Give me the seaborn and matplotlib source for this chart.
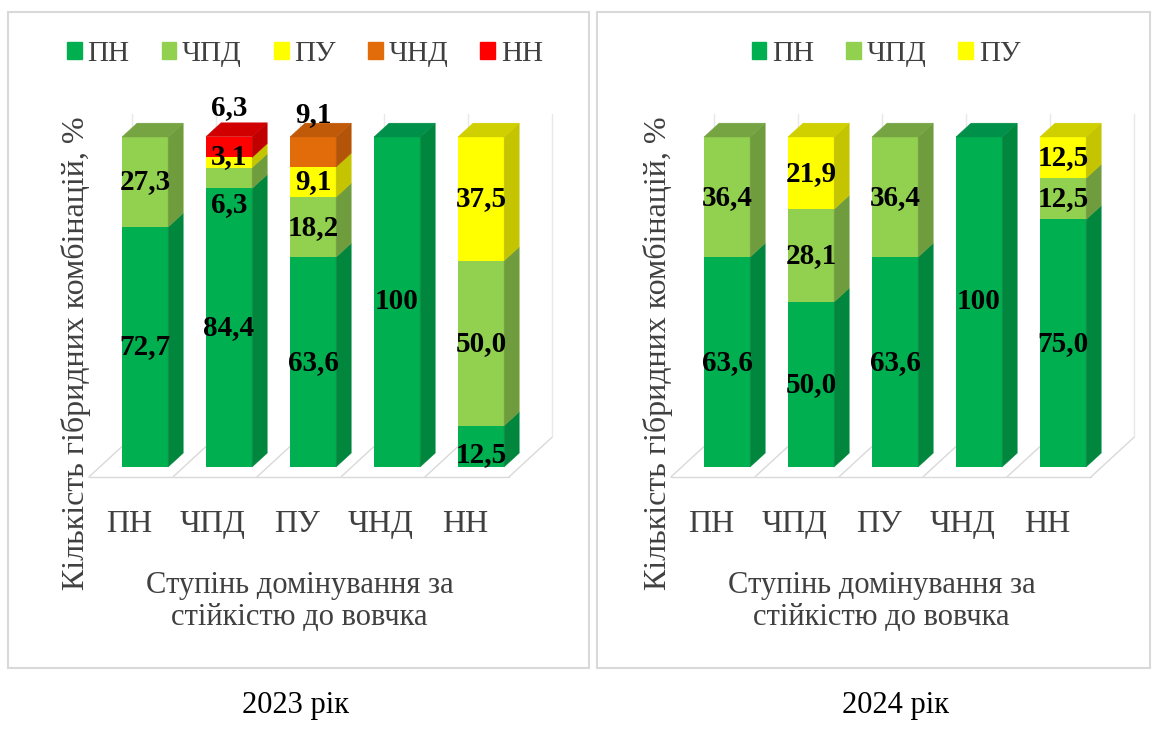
"""
Stacked 3D-like bars: degree of dominance for resistance to broomrape, 2023 vs 2024.
"""

import numpy as np
import pandas as pd
import matplotlib
matplotlib.use("Agg")
import matplotlib.pyplot as plt
from matplotlib.patches import Polygon, Patch, Rectangle
import seaborn as sns

categories = ["ПН", "ЧПД", "ПУ", "ЧНД", "НН"]

# 2023
pn_2023 = [72.7, 84.4, 63.6, 100, 12.5]
chpd_2023 = [27.3, 6.3, 18.2, 0, 50.0]
pu_2023 = [0, 3.1, 9.1, 0, 37.5]
chnd_2023 = [0, 0, 9.1, 0, 0]
nn_2023 = [0, 6.3, 0, 0, 0]

# 2024
pn_2024 = [63.6, 50.0, 63.6, 100, 75.0]
chpd_2024 = [36.4, 28.1, 36.4, 0, 12.5]
pu_2024 = [0, 21.9, 0, 0, 12.5]

years = ["2023 рік", "2024 рік"]
ylabel = "Кількість гібридних комбінацій, %"
xlabel = "Ступінь домінування за\nстійкістю до вовчка"

FRONT = {"ПН": "#00B050", "ЧПД": "#92D050", "ПУ": "#FFFF00", "ЧНД": "#E36C0A", "НН": "#FF0000"}
SIDE = {"ПН": "#00873D", "ЧПД": "#6F9C3D", "ПУ": "#C4C400", "ЧНД": "#B35408", "НН": "#C00000"}
TOP = {"ПН": "#00904A", "ЧПД": "#76A443", "ПУ": "#D0D000", "ЧНД": "#C05A08", "НН": "#D00000"}

BAR_W = 0.55
DX, DY = 0.18, 4.2
GRID = "#D9D9D9"
TEXT = "#404040"
FAM = ["Liberation Serif", "DejaVu Serif"]

# label nudges where Excel moved crowded labels
NUDGE = {
    (0, "ЧПД", "ЧПД"): -8, (0, "ЧПД", "ПУ"): 1.7, (0, "ЧПД", "НН"): 12,
    (0, "ПУ", "ЧНД"): 11.5, (0, "НН", "ПН"): -2.5,
}

sns.set_theme(style="white")
plt.rcParams["font.family"] = "serif"
plt.rcParams["font.serif"] = ["Liberation Serif", "DejaVu Serif"]


def fmt(v):
    return "100" if v == 100 else f"{v:.1f}".replace(".", ",")


def draw_floor(ax):
    # floor and back wall of the 3D box
    ax.plot([-0.667, 4.333], [-3, -3], color=GRID, lw=1, zorder=0)
    for k in range(6):
        ax.plot([k - 0.667, k - 0.155], [-3, 9], color=GRID, lw=1, zorder=0)
        ax.plot([k - 0.155, k - 0.155], [9, 107], color="#E8E8E8", lw=1, zorder=0)


def draw_panel(ax, idx, series, legend_x):
    rows = []
    for name, vals in series:
        for cat, v in zip(categories, vals):
            rows.append(dict(cat=cat, level=name, value=v))
    df = pd.DataFrame(rows)
    df["top"] = df.groupby("cat", sort=False)["value"].cumsum()
    df["bottom"] = df["top"] - df["value"]
    df = df[df["value"] > 0]

    draw_floor(ax)

    # front faces: cumulative bars drawn from the top level down
    for name, _ in reversed(series):
        sub = df[df["level"] == name]
        sns.barplot(data=sub, x="cat", y="top", order=categories, color=FRONT[name],
                    saturation=1, width=BAR_W, errorbar=None, linewidth=0, zorder=3, ax=ax)

    # side and top faces
    for _, r in df.iterrows():
        i = categories.index(r["cat"])
        x1 = i + BAR_W / 2
        ax.add_patch(Polygon([(x1, r["bottom"]), (x1 + DX, r["bottom"] + DY),
                              (x1 + DX, r["top"] + DY), (x1, r["top"])],
                             closed=True, fc=SIDE[r["level"]], ec=SIDE[r["level"]], lw=0.3, zorder=3))
    for cat, r in df.groupby("cat", sort=False).last().iterrows():
        i = categories.index(cat)
        x0, x1, t = i - BAR_W / 2, i + BAR_W / 2, r["top"]
        ax.add_patch(Polygon([(x0, t), (x0 + DX, t + DY), (x1 + DX, t + DY), (x1, t)],
                             closed=True, fc=TOP[r["level"]], ec=TOP[r["level"]], lw=0.3, zorder=3))

    # data labels
    for _, r in df.iterrows():
        i = categories.index(r["cat"])
        y = (r["bottom"] + r["top"]) / 2 + NUDGE.get((idx, r["cat"], r["level"]), 0)
        ax.text(i, y, fmt(r["value"]), ha="center", va="center", fontsize=21, family=FAM,
                fontweight="bold", color="black", zorder=5)

    ax.set_xlim(-0.75, 5.0)
    ax.set_ylim(-8, 112)
    ax.set_yticks([])
    ax.set_xticks(np.arange(len(categories)) - 0.19, categories, family=FAM)
    ax.tick_params(axis="x", length=0, pad=12, labelsize=23, labelcolor=TEXT)
    for s in ax.spines.values():
        s.set_visible(False)
    ax.set_xlabel(xlabel, fontsize=22, color=TEXT, linespacing=1.12, family=FAM)
    ax.xaxis.set_label_coords(0.45, -0.197)
    ax.set_ylabel(ylabel, fontsize=23, color=TEXT, family=FAM)
    ax.yaxis.set_label_coords(0.018, 0.355)

    handles = [Patch(color=FRONT[name], label=name) for name, _ in series]
    ax.legend(handles=handles, loc="center", ncol=len(handles), frameon=False,
              prop=dict(family=FAM, size=21), handlelength=0.5, handleheight=0.5,
              handletextpad=0.2, columnspacing=1.1, labelcolor=TEXT,
              bbox_to_anchor=(legend_x, 1 - 54 / 738),
              bbox_transform=ax.figure.transFigure)


W, H = 1157, 738
fig = plt.figure(figsize=(W / 100, H / 100), dpi=100)
fig.patch.set_facecolor("white")

# panel frames
for x0, x1 in [(8, 589), (597, 1150)]:
    fig.add_artist(Rectangle((x0 / W, 1 - 668 / H), (x1 - x0) / W, 656 / H,
                             transform=fig.transFigure, fill=False, ec=GRID, lw=1.5))

ax1 = fig.add_axes([82 / W, 1 - 493.4 / H, 483 / W, 396 / H])
ax2 = fig.add_axes([664 / W, 1 - 493.4 / H, 483 / W, 396 / H])

draw_panel(ax1, 0, [("ПН", pn_2023), ("ЧПД", chpd_2023), ("ПУ", pu_2023),
                    ("ЧНД", chnd_2023), ("НН", nn_2023)], 305 / W)
draw_panel(ax2, 1, [("ПН", pn_2024), ("ЧПД", chpd_2024), ("ПУ", pu_2024)], 886 / W)

fig.text(295 / W, 1 - 706 / H, years[0], ha="center", va="center", fontsize=22,
         color="black", family=FAM)
fig.text(895 / W, 1 - 706 / H, years[1], ha="center", va="center", fontsize=22,
         color="black", family=FAM)

fig.savefig("out.png", dpi=100, facecolor="white")
plt.close(fig)
